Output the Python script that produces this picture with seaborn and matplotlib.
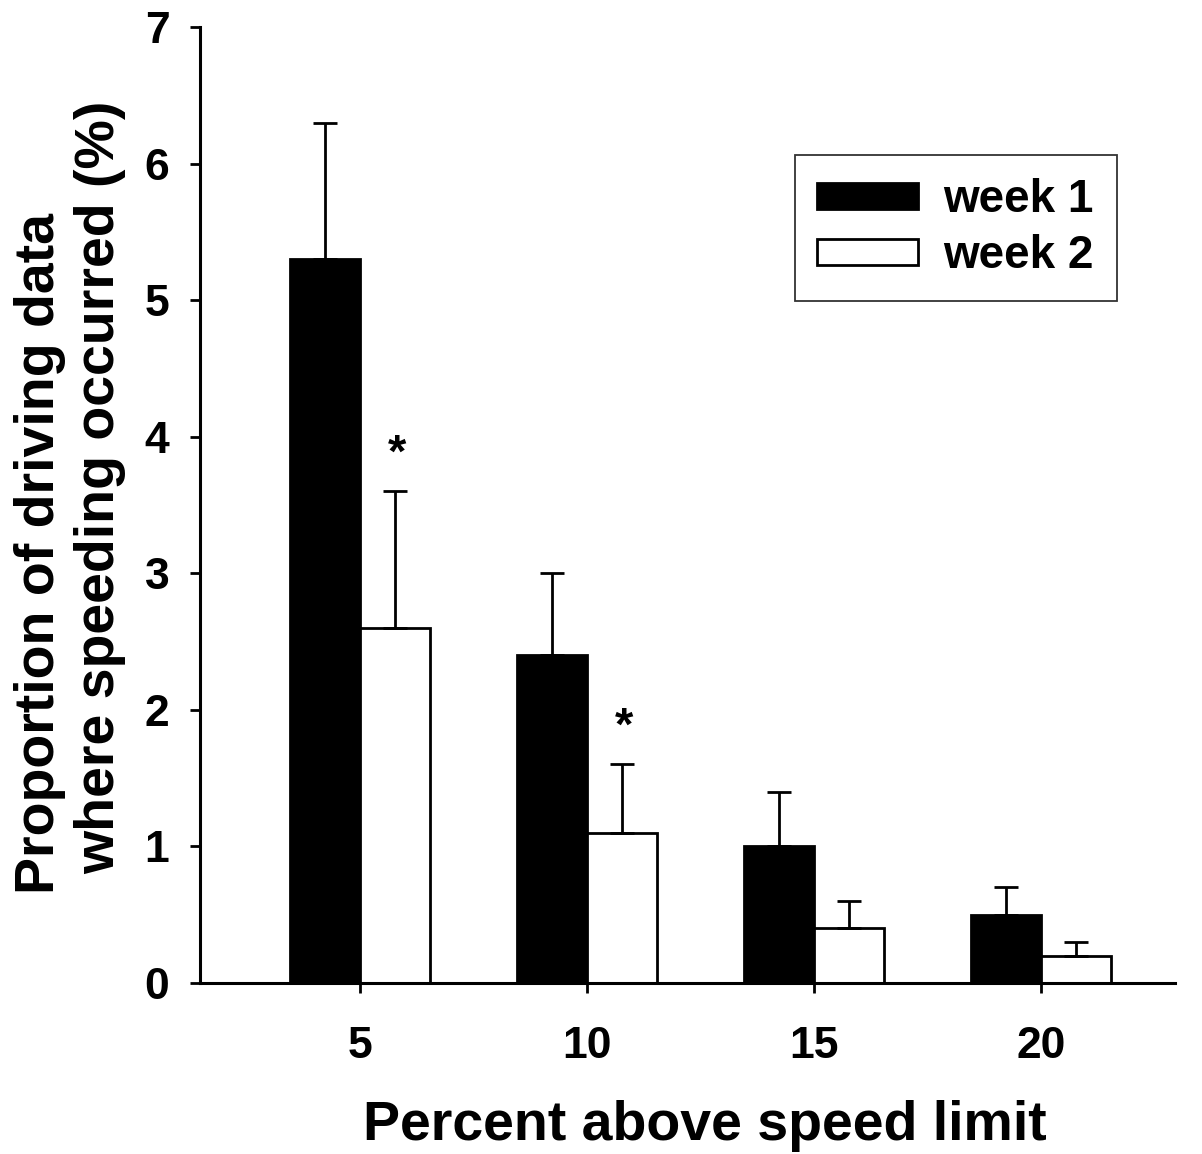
import matplotlib
matplotlib.use("Agg")
import matplotlib.pyplot as plt
import seaborn as sns
import pandas as pd
import numpy as np

categories = ["5", "10", "15", "20"]
week1 = [5.3, 2.4, 1.0, 0.5]
week1_err = [1.0, 0.6, 0.4, 0.2]
week2 = [2.6, 1.1, 0.4, 0.2]
week2_err = [1.0, 0.5, 0.2, 0.1]
series_names = ["week 1", "week 2"]
significant = ["5", "10"]
ylabel_lines = ["Proportion of driving data", "where speeding occurred (%)"]

sns.set_theme(style="ticks")
plt.rcParams["font.family"] = ["Liberation Sans", "DejaVu Sans"]
plt.rcParams["font.weight"] = "bold"
plt.rcParams["text.color"] = "black"
plt.rcParams["axes.labelcolor"] = "black"
plt.rcParams["xtick.color"] = "black"
plt.rcParams["ytick.color"] = "black"

df = pd.DataFrame({
    "limit": categories * 2,
    "value": week1 + week2,
    "err": week1_err + week2_err,
    "week": [series_names[0]] * 4 + [series_names[1]] * 4,
})

fig = plt.figure(figsize=(12.02, 11.54), dpi=100)
ax = fig.add_axes([0.1664, 0.1482, 0.8111, 0.8284])

LW = 2.0
sns.barplot(data=df, x="limit", y="value", hue="week", order=categories,
            hue_order=series_names, palette=["black", "white"], width=0.62,
            edgecolor="black", linewidth=LW, errorbar=None, ax=ax,
            saturation=1)

# error bars (upper only) from bar patches
bars = [p for p in ax.patches if p.get_height() > 0][:8]
errs = week1_err + week2_err
for p, e in zip(bars, errs):
    xc = p.get_x() + p.get_width() / 2
    h = p.get_height()
    ax.errorbar([xc], [h], yerr=[[0], [e]], fmt="none", ecolor="black",
                elinewidth=LW, capsize=8.5, capthick=LW, zorder=3)

# significance asterisks above week 2 bars
for i, cat in enumerate(categories):
    if cat in significant:
        p = bars[4 + i]
        xc = p.get_x() + p.get_width() / 2
        top = week2[i] + week2_err[i]
        ax.text(xc + 0.008, top + 0.27, "*", ha="center", va="center",
                fontsize=34, fontweight="bold", color="black")

ax.set_xlim(-0.705, 3.59)
ax.set_ylim(0, 7)
ax.set_yticks(range(0, 8))
ax.set_xlabel("Percent above speed limit", fontsize=40, fontweight="bold")
ax.xaxis.set_label_coords(0.518, -0.122)
ax.set_ylabel("")
fig.text(40 / 1202, 1 - 553 / 1154, ylabel_lines[0], rotation=90,
         ha="center", va="center", fontsize=40, fontweight="bold")
fig.text(100 / 1202, 1 - 487 / 1154, ylabel_lines[1], rotation=90,
         ha="center", va="center", fontsize=40, fontweight="bold")

ax.tick_params(axis="both", direction="out", length=7, width=LW,
               labelsize=32, color="black")
ax.tick_params(axis="y", pad=15)
ax.tick_params(axis="x", pad=24)
for lab in ax.get_xticklabels() + ax.get_yticklabels():
    lab.set_fontweight("bold")
sns.despine(ax=ax)
for s in ["left", "bottom"]:
    ax.spines[s].set_linewidth(2.2)
    ax.spines[s].set_color("black")

handles, labels = ax.get_legend_handles_labels()
leg = ax.legend(handles, labels, loc="upper right",
                bbox_to_anchor=(0.9405, 0.866), fontsize=33, frameon=True,
                fancybox=False, edgecolor="black", handlelength=2.2,
                handleheight=0.5, borderpad=0.5, labelspacing=0.26,
                handletextpad=0.55, borderaxespad=0)
leg.get_frame().set_linewidth(1.3)
for t in leg.get_texts():
    t.set_fontweight("bold")
    t.set_color("black")

fig.savefig("out.png", dpi=100)
